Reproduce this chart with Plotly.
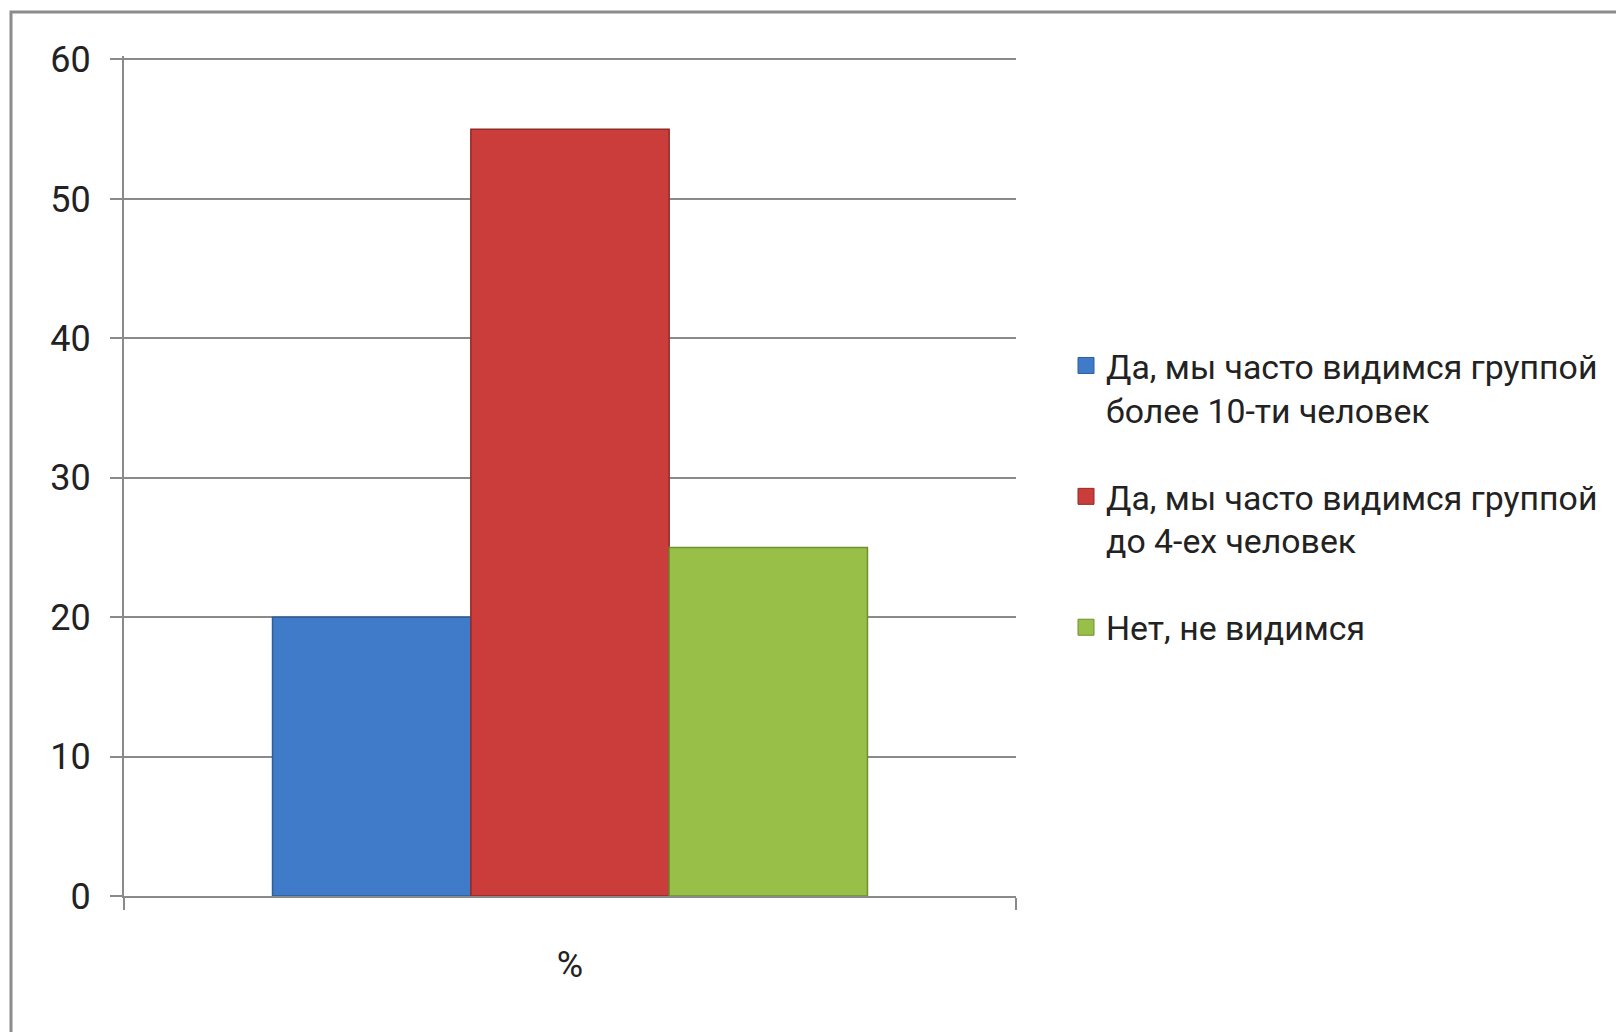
import plotly.graph_objects as go

categories = ["%"]
series_names = [
    "Да, мы часто видимся группой<br>более 10-ти человек",
    "Да, мы часто видимся группой<br>до 4-ех человек",
    "Нет, не видимся",
]
series_values = [[20], [55], [25]]
series_colors = ["#3F7BC8", "#CA3D3A", "#98BF47"]
edge_colors = ["#2F5E9C", "#8E2A28", "#6F8F30"]
y_ticks = [0, 10, 20, 30, 40, 50, 60]

Y_MAX = 60.25  # a touch above 60 so the top gridline is drawn

OFF = 8  # page body margin
W, H = 1624 - OFF, 1032 - OFF
L = 124 - OFF
B = H - (896 - OFF)
# keep 60 at page y=59: plot height scaled for the extra headroom
ph = round((896 - 59) * Y_MAX / 60)
T = H - B - ph
R = W - (1016 - OFF)
pw = W - L - R

FONT = "Roboto"


def px_x(p):
    return (p - OFF - L) / pw


def px_y(p):
    return (H - B - (p - OFF)) / ph


fig = go.Figure()
for i, (name, vals, col, ec) in enumerate(zip(series_names, series_values, series_colors, edge_colors)):
    fig.add_trace(go.Bar(
        x=categories, y=vals, name=name, showlegend=False,
        marker=dict(color=col, line=dict(color=ec, width=1.5)),
    ))
    # legend proxy with a larger square symbol
    fig.add_trace(go.Scatter(
        x=[None], y=[None], mode="markers", name=name,
        legendgroup=f"g{i}",
        marker=dict(symbol="square", size=16, color=col, line=dict(color=ec, width=1)),
    ))

fig.update_layout(
    width=W, height=H,
    margin=dict(l=L, r=R, t=T, b=B),
    paper_bgcolor="white", plot_bgcolor="white",
    barmode="group", bargap=0.333, bargroupgap=0,
    font=dict(family=FONT, color="#222222"),
    showlegend=True,
    legend=dict(
        x=px_x(1066), y=px_y(337), xanchor="left", yanchor="top",
        font=dict(size=33.8, family=FONT, color="#222222"),
        valign="top", tracegroupgap=40, traceorder="grouped",
        itemsizing="trace", itemwidth=30,
        bgcolor="rgba(0,0,0,0)",
    ),
    xaxis=dict(
        range=[-0.5, 0.5], showgrid=False, showline=True,
        linecolor="#8a8a8a", linewidth=2,
        ticks="outside", tickson="boundaries", ticklen=12,
        tickcolor="#8a8a8a", tickwidth=2,
        tickfont=dict(size=36, family=FONT, color="#222222"),
        ticklabelstandoff=36,
    ),
    yaxis=dict(
        range=[0, Y_MAX], tickvals=y_ticks, showgrid=True,
        gridcolor="#8a8a8a", gridwidth=2, zeroline=False,
        showline=True, linecolor="#8a8a8a", linewidth=2,
        ticks="outside", ticklen=12, tickcolor="#8a8a8a", tickwidth=2,
        tickfont=dict(size=36, family=FONT, color="#222222"),
        ticklabelstandoff=12,
    ),
    shapes=[dict(
        type="rect", xref="paper", yref="paper",
        x0=px_x(11), x1=px_x(1700), y0=px_y(12), y1=px_y(1100),
        line=dict(color="#8c8c8c", width=3), fillcolor="rgba(0,0,0,0)",
        layer="below",
    )],
)

fig.write_html("out.html")
